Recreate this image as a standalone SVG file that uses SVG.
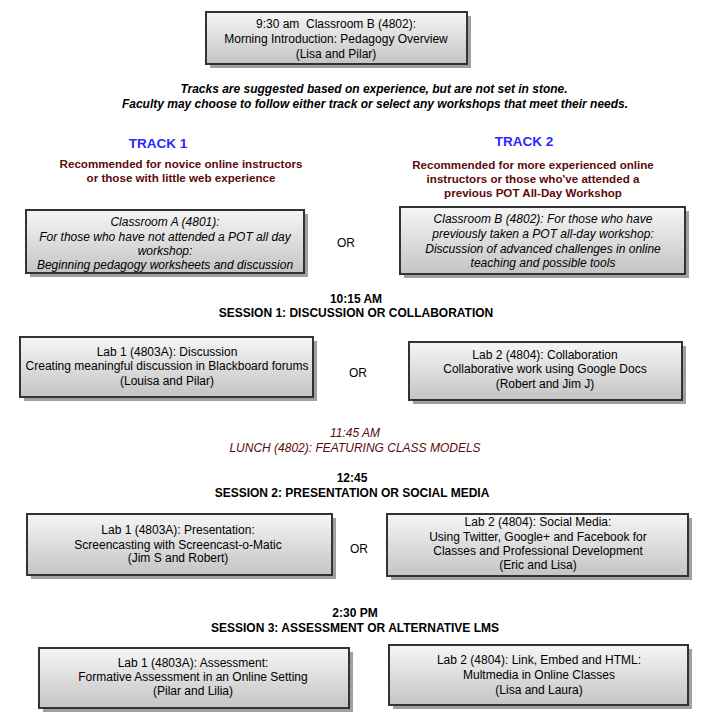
<svg xmlns="http://www.w3.org/2000/svg" width="704" height="718" viewBox="0 0 704 718">
<defs>
<linearGradient id="g" x1="0" y1="0" x2="0" y2="1">
<stop offset="0" stop-color="#f6f6f6"/>
<stop offset="1" stop-color="#c4c4c4"/>
</linearGradient>
<style>
text{font-family:"Liberation Sans",Arial,sans-serif;font-size:12px;fill:#000;text-anchor:middle}
.box{fill:url(#g);stroke:#333;stroke-width:2}
.sh{fill:#a0a0a0}
.it{font-style:italic}
.b{font-weight:bold}
.trk{font-weight:bold;font-size:13.5px;fill:#2a2aff}
.rec{font-weight:bold;font-size:11.6px;fill:#5c0a0a}
.lun{font-style:italic;fill:#5c0a0a}
</style>
</defs>
<rect width="704" height="718" fill="#fff"/>

<g id="intro">
<rect class="sh" x="210" y="16" width="261" height="52"/>
<rect class="box" x="206" y="12" width="261" height="52"/>
<text x="336" y="28" xml:space="preserve">9:30 am  Classroom B (4802):</text>
<text x="336" y="43">Morning Introduction: Pedagogy Overview</text>
<text x="336" y="58">(Lisa and Pilar)</text>
</g>

<g id="note">
<text x="374" y="93" class="b it">Tracks are suggested based on experience, but are not set in stone.</text>
<text x="375" y="108" class="b it">Faculty may choose to follow either track or select any workshops that meet their needs.</text>
</g>

<g id="track1">
<text x="158" y="148" class="trk">TRACK 1</text>
<text x="181" y="168" class="rec">Recommended for novice online instructors</text>
<text x="181" y="182" class="rec">or those with little web experience</text>
</g>

<g id="track2">
<text x="524" y="146" class="trk">TRACK 2</text>
<text x="533" y="169" class="rec">Recommended for more experienced online</text>
<text x="533" y="183" class="rec">instructors or those who've attended a</text>
<text x="533" y="197" class="rec">previous POT All-Day Workshop</text>
</g>

<g id="classA">
<rect class="sh" x="30" y="214" width="278" height="63"/>
<rect class="box" x="26" y="210" width="278" height="63"/>
<text x="165" y="226" class="it">Classroom A (4801):</text>
<text x="165" y="241" class="it">For those who have not attended a POT all day</text>
<text x="165" y="255" class="it">workshop:</text>
<text x="165" y="269" class="it">Beginning pedagogy worksheets and discussion</text>
</g>

<text id="or1" x="346" y="247">OR</text>

<g id="classB">
<rect class="sh" x="404" y="211" width="285" height="67"/>
<rect class="box" x="400" y="207" width="285" height="67"/>
<text x="543" y="223" class="it">Classroom B (4802): For those who have</text>
<text x="543" y="238" class="it">previously taken a POT all-day workshop:</text>
<text x="543" y="253" class="it">Discussion of advanced challenges in online</text>
<text x="543" y="267" class="it">teaching and possible tools</text>
</g>

<g id="session1">
<text x="356" y="303" class="b">10:15 AM</text>
<text x="356" y="317" class="b">SESSION 1: DISCUSSION OR COLLABORATION</text>
</g>

<g id="s1lab1">
<rect class="sh" x="24" y="341" width="293" height="60"/>
<rect class="box" x="20" y="337" width="293" height="60"/>
<text x="167" y="356">Lab 1 (4803A): Discussion</text>
<text x="167" y="370">Creating meaningful discussion in Blackboard forums</text>
<text x="167" y="385">(Louisa and Pilar)</text>
</g>

<text id="or2" x="358" y="377">OR</text>

<g id="s1lab2">
<rect class="sh" x="413" y="346" width="273" height="58"/>
<rect class="box" x="409" y="342" width="273" height="58"/>
<text x="545" y="359">Lab 2 (4804): Collaboration</text>
<text x="545" y="373">Collaborative work using Google Docs</text>
<text x="545" y="388">(Robert and Jim J)</text>
</g>

<g id="lunch">
<text x="355" y="437" class="lun">11:45 AM</text>
<text x="355" y="452" class="lun">LUNCH (4802): FEATURING CLASS MODELS</text>
</g>

<g id="session2">
<text x="352" y="482" class="b">12:45</text>
<text x="352" y="497" class="b">SESSION 2: PRESENTATION OR SOCIAL MEDIA</text>
</g>

<g id="s2lab1">
<rect class="sh" x="31" y="518" width="305" height="61"/>
<rect class="box" x="27" y="514" width="305" height="61"/>
<text x="178" y="534">Lab 1 (4803A): Presentation:</text>
<text x="178" y="549">Screencasting with Screencast-o-Matic</text>
<text x="178" y="562">(Jim S and Robert)</text>
</g>

<text id="or3" x="359" y="553">OR</text>

<g id="s2lab2">
<rect class="sh" x="391" y="518" width="301" height="62"/>
<rect class="box" x="387" y="514" width="301" height="62"/>
<text x="538" y="526">Lab 2 (4804): Social Media:</text>
<text x="538" y="541">Using Twitter, Google+ and Facebook for</text>
<text x="538" y="555">Classes and Professional Development</text>
<text x="538" y="569">(Eric and Lisa)</text>
</g>

<g id="session3">
<text x="355" y="617" class="b">2:30 PM</text>
<text x="355" y="632" class="b">SESSION 3: ASSESSMENT OR ALTERNATIVE LMS</text>
</g>

<g id="s3lab1">
<rect class="sh" x="43" y="652" width="310" height="60"/>
<rect class="box" x="39" y="648" width="310" height="60"/>
<text x="193" y="667">Lab 1 (4803A): Assessment:</text>
<text x="193" y="681">Formative Assessment in an Online Setting</text>
<text x="193" y="695">(Pilar and Lilia)</text>
</g>

<g id="s3lab2">
<rect class="sh" x="393" y="649" width="299" height="60"/>
<rect class="box" x="389" y="645" width="299" height="60"/>
<text x="539" y="664">Lab 2 (4804): Link, Embed and HTML:</text>
<text x="539" y="679">Multmedia in Online Classes</text>
<text x="539" y="694">(Lisa and Laura)</text>
</g>

<g id="connectors"/>
</svg>
